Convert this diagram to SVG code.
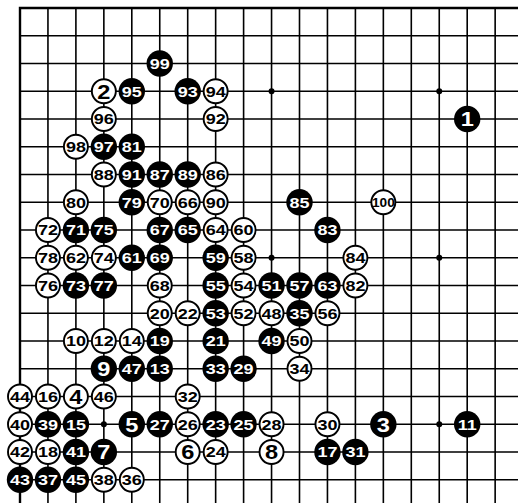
<svg xmlns="http://www.w3.org/2000/svg" width="518" height="503" viewBox="0 0 518 503">
<style>
text{font-family:"Liberation Sans",Arial,Helvetica,sans-serif;font-weight:bold;font-size:15px;text-anchor:middle;transform:scaleX(1.2)}
.b circle{fill:#000}
.b text{fill:#fff}
.w circle{fill:#fff;stroke:#000;stroke-width:1.9}
.w text{fill:#000}
.big text{font-size:20.5px;transform:scaleX(1.15)}
.s text{font-size:13px;transform:scaleX(1.05)}
.grid{fill:none;stroke:#000;stroke-width:1.6}
.edge{fill:none;stroke:#000;stroke-width:2.4}
</style>
<rect width="518" height="503" fill="#fff"/>
<g id="board">
<path class="grid" d="M47.95 8V503M75.9 8V503M103.85 8V503M131.8 8V503M159.75 8V503M187.7 8V503M215.65 8V503M243.6 8V503M271.55 8V503M299.5 8V503M327.45 8V503M355.4 8V503M383.35 8V503M411.3 8V503M439.25 8V503M467.2 8V503M495.15 8V503M20 35.75H518M20 63.5H518M20 91.25H518M20 119H518M20 146.75H518M20 174.5H518M20 202.25H518M20 230H518M20 257.75H518M20 285.5H518M20 313.25H518M20 341H518M20 368.75H518M20 396.5H518M20 424.25H518M20 452H518M20 479.75H518"/>
<path class="edge" d="M20 503V8H518"/>
<g id="hoshi" fill="#000">
<circle cx="271.55" cy="91.25" r="3"/><circle cx="439.25" cy="91.25" r="3"/>
<circle cx="271.55" cy="257.75" r="3"/><circle cx="439.25" cy="257.75" r="3"/>
<circle cx="103.85" cy="424.25" r="3"/><circle cx="439.25" cy="424.25" r="3"/>
</g>
</g>
<g id="connectors"/>
<g id="stones">
<g id="m1" class="b big" transform="translate(467.2,119)"><circle r="13.2"/><text y="7.4">1</text></g>
<g id="m2" class="w big" transform="translate(103.85,91.25)"><circle r="12"/><text y="7.4">2</text></g>
<g id="m3" class="b big" transform="translate(383.35,424.25)"><circle r="13.2"/><text y="7.4">3</text></g>
<g id="m4" class="w big" transform="translate(75.9,396.5)"><circle r="12"/><text y="7.4">4</text></g>
<g id="m5" class="b big" transform="translate(131.8,424.25)"><circle r="13.2"/><text y="7.4">5</text></g>
<g id="m6" class="w big" transform="translate(187.7,452)"><circle r="12"/><text y="7.4">6</text></g>
<g id="m7" class="b big" transform="translate(103.85,452)"><circle r="13.2"/><text y="7.4">7</text></g>
<g id="m8" class="w big" transform="translate(271.55,452)"><circle r="12"/><text y="7.4">8</text></g>
<g id="m9" class="b big" transform="translate(103.85,368.75)"><circle r="13.2"/><text y="7.4">9</text></g>
<g id="m10" class="w" transform="translate(75.9,341)"><circle r="12"/><text y="5.4">10</text></g>
<g id="m11" class="b" transform="translate(467.2,424.25)"><circle r="13.2"/><text y="5.4">11</text></g>
<g id="m12" class="w" transform="translate(103.85,341)"><circle r="12"/><text y="5.4">12</text></g>
<g id="m13" class="b" transform="translate(159.75,368.75)"><circle r="13.2"/><text y="5.4">13</text></g>
<g id="m14" class="w" transform="translate(131.8,341)"><circle r="12"/><text y="5.4">14</text></g>
<g id="m15" class="b" transform="translate(75.9,424.25)"><circle r="13.2"/><text y="5.4">15</text></g>
<g id="m16" class="w" transform="translate(47.95,396.5)"><circle r="12"/><text y="5.4">16</text></g>
<g id="m17" class="b" transform="translate(327.45,452)"><circle r="13.2"/><text y="5.4">17</text></g>
<g id="m18" class="w" transform="translate(47.95,452)"><circle r="12"/><text y="5.4">18</text></g>
<g id="m19" class="b" transform="translate(159.75,341)"><circle r="13.2"/><text y="5.4">19</text></g>
<g id="m20" class="w" transform="translate(159.75,313.25)"><circle r="12"/><text y="5.4">20</text></g>
<g id="m21" class="b" transform="translate(215.65,341)"><circle r="13.2"/><text y="5.4">21</text></g>
<g id="m22" class="w" transform="translate(187.7,313.25)"><circle r="12"/><text y="5.4">22</text></g>
<g id="m23" class="b" transform="translate(215.65,424.25)"><circle r="13.2"/><text y="5.4">23</text></g>
<g id="m24" class="w" transform="translate(215.65,452)"><circle r="12"/><text y="5.4">24</text></g>
<g id="m25" class="b" transform="translate(243.6,424.25)"><circle r="13.2"/><text y="5.4">25</text></g>
<g id="m26" class="w" transform="translate(187.7,424.25)"><circle r="12"/><text y="5.4">26</text></g>
<g id="m27" class="b" transform="translate(159.75,424.25)"><circle r="13.2"/><text y="5.4">27</text></g>
<g id="m28" class="w" transform="translate(271.55,424.25)"><circle r="12"/><text y="5.4">28</text></g>
<g id="m29" class="b" transform="translate(243.6,368.75)"><circle r="13.2"/><text y="5.4">29</text></g>
<g id="m30" class="w" transform="translate(327.45,424.25)"><circle r="12"/><text y="5.4">30</text></g>
<g id="m31" class="b" transform="translate(355.4,452)"><circle r="13.2"/><text y="5.4">31</text></g>
<g id="m32" class="w" transform="translate(187.7,396.5)"><circle r="12"/><text y="5.4">32</text></g>
<g id="m33" class="b" transform="translate(215.65,368.75)"><circle r="13.2"/><text y="5.4">33</text></g>
<g id="m34" class="w" transform="translate(299.5,368.75)"><circle r="12"/><text y="5.4">34</text></g>
<g id="m35" class="b" transform="translate(299.5,313.25)"><circle r="13.2"/><text y="5.4">35</text></g>
<g id="m36" class="w" transform="translate(131.8,479.75)"><circle r="12"/><text y="5.4">36</text></g>
<g id="m37" class="b" transform="translate(47.95,479.75)"><circle r="13.2"/><text y="5.4">37</text></g>
<g id="m38" class="w" transform="translate(103.85,479.75)"><circle r="12"/><text y="5.4">38</text></g>
<g id="m39" class="b" transform="translate(47.95,424.25)"><circle r="13.2"/><text y="5.4">39</text></g>
<g id="m40" class="w" transform="translate(20,424.25)"><circle r="12"/><text y="5.4">40</text></g>
<g id="m41" class="b" transform="translate(75.9,452)"><circle r="13.2"/><text y="5.4">41</text></g>
<g id="m42" class="w" transform="translate(20,452)"><circle r="12"/><text y="5.4">42</text></g>
<g id="m43" class="b" transform="translate(20,479.75)"><circle r="13.2"/><text y="5.4">43</text></g>
<g id="m44" class="w" transform="translate(20,396.5)"><circle r="12"/><text y="5.4">44</text></g>
<g id="m45" class="b" transform="translate(75.9,479.75)"><circle r="13.2"/><text y="5.4">45</text></g>
<g id="m46" class="w" transform="translate(103.85,396.5)"><circle r="12"/><text y="5.4">46</text></g>
<g id="m47" class="b" transform="translate(131.8,368.75)"><circle r="13.2"/><text y="5.4">47</text></g>
<g id="m48" class="w" transform="translate(271.55,313.25)"><circle r="12"/><text y="5.4">48</text></g>
<g id="m49" class="b" transform="translate(271.55,341)"><circle r="13.2"/><text y="5.4">49</text></g>
<g id="m50" class="w" transform="translate(299.5,341)"><circle r="12"/><text y="5.4">50</text></g>
<g id="m51" class="b" transform="translate(271.55,285.5)"><circle r="13.2"/><text y="5.4">51</text></g>
<g id="m52" class="w" transform="translate(243.6,313.25)"><circle r="12"/><text y="5.4">52</text></g>
<g id="m53" class="b" transform="translate(215.65,313.25)"><circle r="13.2"/><text y="5.4">53</text></g>
<g id="m54" class="w" transform="translate(243.6,285.5)"><circle r="12"/><text y="5.4">54</text></g>
<g id="m55" class="b" transform="translate(215.65,285.5)"><circle r="13.2"/><text y="5.4">55</text></g>
<g id="m56" class="w" transform="translate(327.45,313.25)"><circle r="12"/><text y="5.4">56</text></g>
<g id="m57" class="b" transform="translate(299.5,285.5)"><circle r="13.2"/><text y="5.4">57</text></g>
<g id="m58" class="w" transform="translate(243.6,257.75)"><circle r="12"/><text y="5.4">58</text></g>
<g id="m59" class="b" transform="translate(215.65,257.75)"><circle r="13.2"/><text y="5.4">59</text></g>
<g id="m60" class="w" transform="translate(243.6,230)"><circle r="12"/><text y="5.4">60</text></g>
<g id="m61" class="b" transform="translate(131.8,257.75)"><circle r="13.2"/><text y="5.4">61</text></g>
<g id="m62" class="w" transform="translate(75.9,257.75)"><circle r="12"/><text y="5.4">62</text></g>
<g id="m63" class="b" transform="translate(327.45,285.5)"><circle r="13.2"/><text y="5.4">63</text></g>
<g id="m64" class="w" transform="translate(215.65,230)"><circle r="12"/><text y="5.4">64</text></g>
<g id="m65" class="b" transform="translate(187.7,230)"><circle r="13.2"/><text y="5.4">65</text></g>
<g id="m66" class="w" transform="translate(187.7,202.25)"><circle r="12"/><text y="5.4">66</text></g>
<g id="m67" class="b" transform="translate(159.75,230)"><circle r="13.2"/><text y="5.4">67</text></g>
<g id="m68" class="w" transform="translate(159.75,285.5)"><circle r="12"/><text y="5.4">68</text></g>
<g id="m69" class="b" transform="translate(159.75,257.75)"><circle r="13.2"/><text y="5.4">69</text></g>
<g id="m70" class="w" transform="translate(159.75,202.25)"><circle r="12"/><text y="5.4">70</text></g>
<g id="m71" class="b" transform="translate(75.9,230)"><circle r="13.2"/><text y="5.4">71</text></g>
<g id="m72" class="w" transform="translate(47.95,230)"><circle r="12"/><text y="5.4">72</text></g>
<g id="m73" class="b" transform="translate(75.9,285.5)"><circle r="13.2"/><text y="5.4">73</text></g>
<g id="m74" class="w" transform="translate(103.85,257.75)"><circle r="12"/><text y="5.4">74</text></g>
<g id="m75" class="b" transform="translate(103.85,230)"><circle r="13.2"/><text y="5.4">75</text></g>
<g id="m76" class="w" transform="translate(47.95,285.5)"><circle r="12"/><text y="5.4">76</text></g>
<g id="m77" class="b" transform="translate(103.85,285.5)"><circle r="13.2"/><text y="5.4">77</text></g>
<g id="m78" class="w" transform="translate(47.95,257.75)"><circle r="12"/><text y="5.4">78</text></g>
<g id="m79" class="b" transform="translate(131.8,202.25)"><circle r="13.2"/><text y="5.4">79</text></g>
<g id="m80" class="w" transform="translate(75.9,202.25)"><circle r="12"/><text y="5.4">80</text></g>
<g id="m81" class="b" transform="translate(131.8,146.75)"><circle r="13.2"/><text y="5.4">81</text></g>
<g id="m82" class="w" transform="translate(355.4,285.5)"><circle r="12"/><text y="5.4">82</text></g>
<g id="m83" class="b" transform="translate(327.45,230)"><circle r="13.2"/><text y="5.4">83</text></g>
<g id="m84" class="w" transform="translate(355.4,257.75)"><circle r="12"/><text y="5.4">84</text></g>
<g id="m85" class="b" transform="translate(299.5,202.25)"><circle r="13.2"/><text y="5.4">85</text></g>
<g id="m86" class="w" transform="translate(215.65,174.5)"><circle r="12"/><text y="5.4">86</text></g>
<g id="m87" class="b" transform="translate(159.75,174.5)"><circle r="13.2"/><text y="5.4">87</text></g>
<g id="m88" class="w" transform="translate(103.85,174.5)"><circle r="12"/><text y="5.4">88</text></g>
<g id="m89" class="b" transform="translate(187.7,174.5)"><circle r="13.2"/><text y="5.4">89</text></g>
<g id="m90" class="w" transform="translate(215.65,202.25)"><circle r="12"/><text y="5.4">90</text></g>
<g id="m91" class="b" transform="translate(131.8,174.5)"><circle r="13.2"/><text y="5.4">91</text></g>
<g id="m92" class="w" transform="translate(215.65,119)"><circle r="12"/><text y="5.4">92</text></g>
<g id="m93" class="b" transform="translate(187.7,91.25)"><circle r="13.2"/><text y="5.4">93</text></g>
<g id="m94" class="w" transform="translate(215.65,91.25)"><circle r="12"/><text y="5.4">94</text></g>
<g id="m95" class="b" transform="translate(131.8,91.25)"><circle r="13.2"/><text y="5.4">95</text></g>
<g id="m96" class="w" transform="translate(103.85,119)"><circle r="12"/><text y="5.4">96</text></g>
<g id="m97" class="b" transform="translate(103.85,146.75)"><circle r="13.2"/><text y="5.4">97</text></g>
<g id="m98" class="w" transform="translate(75.9,146.75)"><circle r="12"/><text y="5.4">98</text></g>
<g id="m99" class="b" transform="translate(159.75,63.5)"><circle r="13.2"/><text y="5.4">99</text></g>
<g id="m100" class="w s" transform="translate(383.35,202.25)"><circle r="12"/><text y="4.7">100</text></g>
</g>
</svg>
